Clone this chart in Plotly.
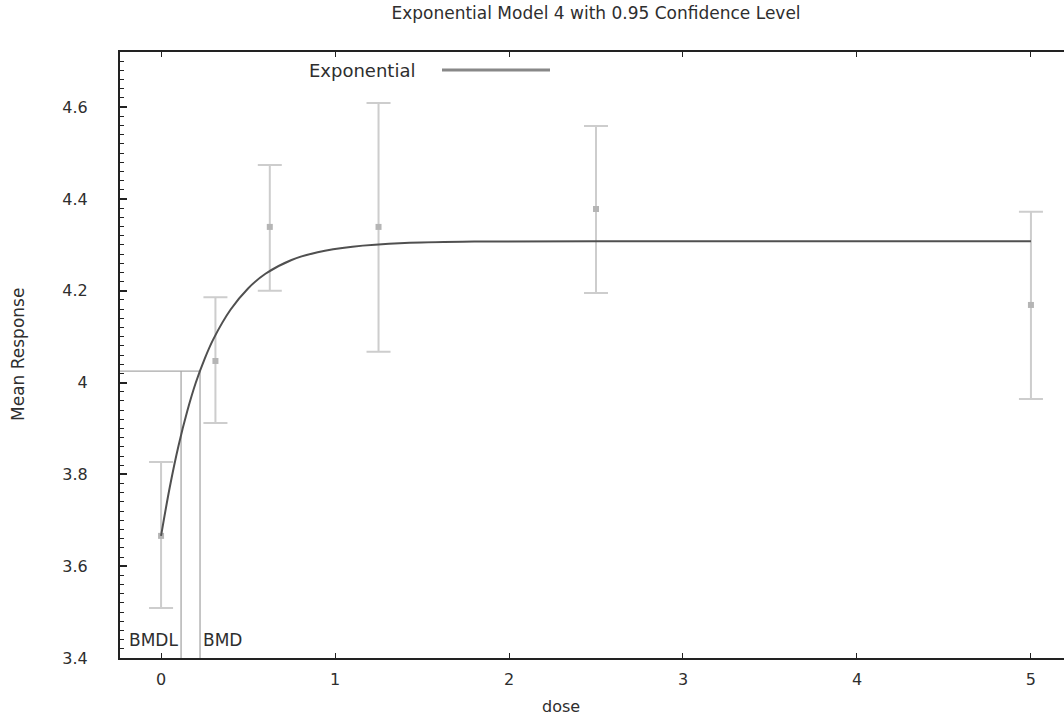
import plotly.graph_objects as go

# ---- data ----
dose = [0, 0.3125, 0.625, 1.25, 2.5, 5]
mean_resp = [3.666, 4.047, 4.339, 4.339, 4.378, 4.169]
upper_ci = [3.827, 4.186, 4.474, 4.609, 4.559, 4.372]
lower_ci = [3.509, 3.912, 4.200, 4.067, 4.195, 3.964]

curve_x = [0, 0.05, 0.1, 0.15, 0.2, 0.25, 0.3, 0.4, 0.5, 0.6, 0.75, 0.9, 1.1, 1.4, 1.8, 2.5, 3.5, 5]
curve_y = [3.666, 3.772, 3.862, 3.937, 4.000, 4.051, 4.094, 4.159, 4.205, 4.237, 4.267,
           4.284, 4.296, 4.304, 4.307, 4.308, 4.308, 4.308]

bmdl = 0.115
bmd = 0.224
bmr_level = 4.025

x_range = [-0.236, 5.19]
y_range = [3.4, 4.72]
y_ticks = [3.4, 3.6, 3.8, 4.0, 4.2, 4.4, 4.6]
x_ticks = [0, 1, 2, 3, 4, 5]

FONT = "DejaVu Sans, Liberation Sans, Arial, sans-serif"
TXT = "#2e2e2e"

W, H = 1064, 715
L, R, T, B = 120, 0, 52, 57
PW, PH = W - L - R, H - T - B

fig = go.Figure()

# BMD / BMDL reference lines
ref_line = dict(color="#a8a8a8", width=1.3)
fig.add_trace(go.Scatter(x=[x_range[0], bmd], y=[bmr_level, bmr_level], mode="lines",
                         line=ref_line, showlegend=False, hoverinfo="skip"))
fig.add_trace(go.Scatter(x=[bmdl, bmdl], y=[y_range[0], bmr_level], mode="lines",
                         line=ref_line, showlegend=False, hoverinfo="skip"))
fig.add_trace(go.Scatter(x=[bmd, bmd], y=[y_range[0], bmr_level], mode="lines",
                         line=ref_line, showlegend=False, hoverinfo="skip"))

# data with confidence bars
fig.add_trace(go.Scatter(
    x=dose, y=mean_resp, mode="markers",
    marker=dict(symbol="square", size=6, color="#b5b5b5"),
    error_y=dict(type="data", symmetric=False,
                 array=[u - m for u, m in zip(upper_ci, mean_resp)],
                 arrayminus=[m - l for m, l in zip(mean_resp, lower_ci)],
                 color="#cdcdcd", thickness=2, width=12),
    showlegend=False))

# model curve
fig.add_trace(go.Scatter(x=curve_x, y=curve_y, mode="lines", line_shape="spline",
                         line=dict(color="#505050", width=2), showlegend=False))

fig.update_layout(
    width=W, height=H,
    margin=dict(l=L, r=R, t=T, b=B),
    plot_bgcolor="white", paper_bgcolor="white",
    font=dict(family=FONT, color=TXT, size=16),
    title=dict(text="Exponential Model 4 with 0.95 Confidence Level", x=596 / W, xanchor="center",
               y=1 - 13 / H, yanchor="middle", font=dict(size=17, color=TXT)),
)

fig.update_xaxes(range=x_range, tickvals=x_ticks, ticks="inside", ticklen=5, tickwidth=1.3,
                 tickcolor="#222", showline=True, linecolor="#222", linewidth=2,
                 mirror="ticks", showgrid=False, zeroline=False,
                 tickfont=dict(size=16, color=TXT), ticklabelstandoff=6)
fig.update_yaxes(range=y_range, tickvals=y_ticks, ticks="inside", ticklen=7, tickwidth=1.5,
                 tickcolor="#222", showline=True, linecolor="#222", linewidth=2,
                 showgrid=False, zeroline=False,
                 minor=dict(dtick=0.02, ticks="inside", ticklen=4, tickwidth=1.3, tickcolor="#222",
                            showgrid=False),
                 tickfont=dict(size=16, color=TXT), ticklabelstandoff=27)

# axis titles
fig.add_annotation(text="dose", xref="paper", yref="paper", x=(561 - L) / PW, y=-(706 - (H - B)) / PH,
                   xanchor="center", yanchor="middle", showarrow=False, font=dict(size=16, color=TXT))
fig.add_annotation(text="Mean Response", xref="paper", yref="paper", x=-(L - 18) / PW, y=0.5,
                   textangle=-90, xanchor="center", yanchor="middle", showarrow=False,
                   font=dict(size=17, color=TXT))

# BMD labels
fig.add_annotation(text="BMDL", x=bmdl, y=3.44, xref="x", yref="y", xanchor="right", yanchor="middle",
                   showarrow=False, font=dict(size=17, color=TXT), xshift=-1)
fig.add_annotation(text="BMD", x=bmd, y=3.44, xref="x", yref="y", xanchor="left", yanchor="middle",
                   showarrow=False, font=dict(size=17, color=TXT), xshift=1)

# legend (text then line sample)
leg_y = ((H - B) - 70) / PH
fig.add_annotation(text="Exponential", xref="paper", yref="paper", x=(417 - L) / PW, y=leg_y,
                   xanchor="right", yanchor="middle", showarrow=False, font=dict(size=18, color=TXT))
fig.add_shape(type="line", xref="paper", yref="paper", x0=(442 - L) / PW, x1=(550 - L) / PW,
              y0=leg_y, y1=leg_y, line=dict(color="#888888", width=3))

fig.write_html("out.html", config={"displayModeBar": False},
               post_script="document.body.style.margin='0';document.body.style.overflow='hidden';")
